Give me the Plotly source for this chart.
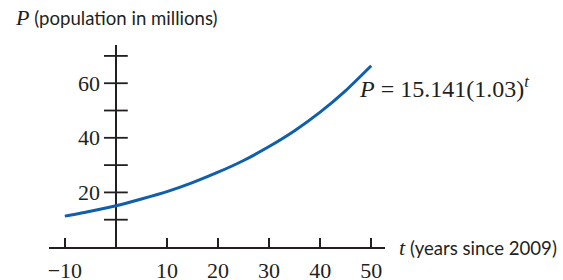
import plotly.graph_objects as go

# Data
t_years = [-10, -5, 0, 5, 10, 15, 20, 25, 30, 35, 40, 45, 50]
population = [11.3, 13.1, 15.1, 17.6, 20.3, 23.6, 27.4, 31.7, 36.8, 42.6, 49.4, 57.3, 66.4]

x_tick_vals = [-10, 10, 20, 30, 40, 50]
x_tick_text = ["\u221210", "10", "20", "30", "40", "50"]
y_tick_vals = [10, 20, 30, 40, 50, 60, 70]
y_label_vals = [20, 40, 60]

SERIF = "Liberation Serif"
SANS = "Lato"
INK = "#231f20"
BLUE = "#0f5fad"

fig = go.Figure()

fig.add_trace(go.Scatter(
    x=t_years, y=population, mode="lines",
    line=dict(color=BLUE, width=3, shape="spline", smoothing=0.6),
    hoverinfo="skip", showlegend=False,
))

# y-axis tick marks (crossing the vertical axis)
fig.add_trace(go.Scatter(
    x=[0] * len(y_tick_vals), y=y_tick_vals, mode="markers",
    marker=dict(symbol="line-ew-open", size=17, color=INK,
                line=dict(color=INK, width=1.8)),
    hoverinfo="skip", showlegend=False, cliponaxis=False,
))

for v in y_label_vals:
    fig.add_annotation(x=0, y=v, text=str(v), showarrow=False,
                       xanchor="right", yanchor="middle", xshift=-14,
                       font=dict(family=SERIF, size=22, color=INK))

fig.add_annotation(xref="paper", yref="paper", x=0, y=1 + 27 / 202,
                   xanchor="left", yanchor="middle", xshift=-36,
                   text=f"<i><span style='font-family:{SERIF};font-size:22px'>P</span></i> (population in millions)",
                   showarrow=False, font=dict(family=SANS, size=18.6, color=INK))

fig.add_annotation(xref="paper", yref="paper", x=1, y=0,
                   xanchor="left", yanchor="middle", xshift=12,
                   text=f"<i><span style='font-family:{SERIF};font-size:22px'>t</span></i> (years since 2009)",
                   showarrow=False, font=dict(family=SANS, size=18.6, color=INK))

fig.add_annotation(x=50, y=58.6, xanchor="left", yanchor="middle", xshift=-14,
                   text="<i>P</i> = 15.141(1.03)<sup><i>t</i></sup>",
                   showarrow=False, font=dict(family=SERIF, size=24, color=INK))

fig.update_xaxes(
    range=[-13.1, 52.7], showgrid=False, automargin=False,
    showline=True, linecolor=INK, linewidth=1.8,
    zeroline=True, zerolinecolor=INK, zerolinewidth=1.8,
    tickmode="array", tickvals=x_tick_vals, ticktext=x_tick_text,
    ticks="inside", ticklen=9, tickwidth=1.8, tickcolor=INK,
    ticklabelstandoff=3,
    tickfont=dict(family=SERIF, size=22, color=INK),
)
fig.update_yaxes(
    range=[0, 74], showgrid=False, showline=False, zeroline=False,
    showticklabels=False, ticks="", automargin=False,
)

fig.update_layout(
    width=563, height=280,
    margin=dict(l=49, r=178, t=45, b=33),
    paper_bgcolor="white", plot_bgcolor="white",
)

fig.write_html("out.html", config={"displayModeBar": False},
               post_script="document.body.style.margin='0';")
